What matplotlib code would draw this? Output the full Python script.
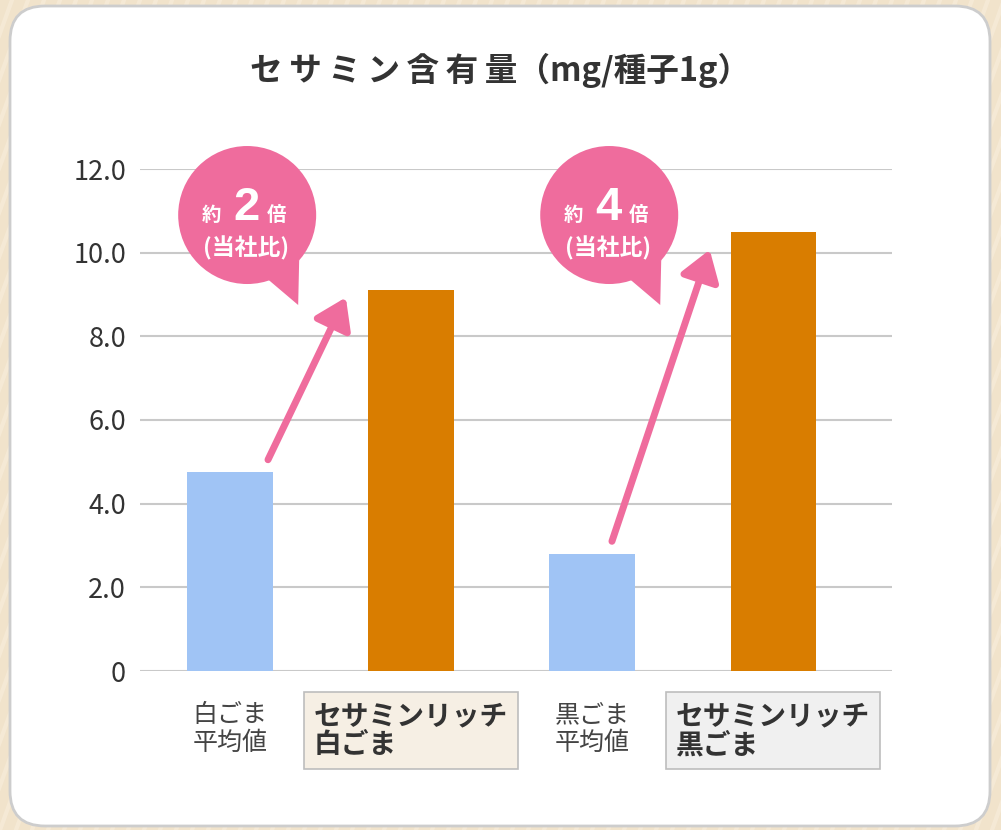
import matplotlib
matplotlib.use("Agg")
import matplotlib.pyplot as plt
from matplotlib.patches import FancyBboxPatch, Circle, Polygon
from matplotlib.transforms import ScaledTranslation

plt.rcParams['font.family'] = ['Noto Sans CJK JP', 'DejaVu Sans']

# datos
categorias = ["白ごま\n平均値", "セサミンリッチ\n白ごま", "黒ごま\n平均値", "セサミンリッチ\n黒ごま"]
valores = [4.75, 9.1, 2.8, 10.5]
colores = ["#a0c4f5", "#d97d00", "#a0c4f5", "#d97d00"]
destacado = [False, True, False, True]
caja_color = [None, "#f6efe4", None, "#f0f0f0"]
ticks_y = [0, 2, 4, 6, 8, 10, 12]
ticks_y_txt = ["0", "2.0", "4.0", "6.0", "8.0", "10.0", "12.0"]
# (multiplo, desde, hasta, inicio_dx, fin_dx, fin_dy)
burbujas = [("2", 0, 1, 0.21, -0.36, -0.17), ("4", 2, 3, 0.11, -0.35, -0.43)]

titulo_a = "セサミン含有量"
titulo_b = "（mg/種子1g）"
rosa = "#ef6c9d"

W, H = 1001, 830
fig = plt.figure(figsize=(W / 100, H / 100), dpi=100)
fig.patch.set_facecolor("#f1e3cb")

# fondo tipo madera (rayas diagonales suaves)
for i in range(-60, 80):
    x0 = i * 16
    fig.add_artist(plt.Line2D([x0 / W, (x0 + 300) / W], [0, 1], transform=fig.transFigure,
                              color="#f8eedd", lw=3, alpha=0.6, zorder=0))

# tarjeta blanca
card = FancyBboxPatch((10 / W, 4 / H), 980 / W, 820 / H,
                      boxstyle="round,pad=0,rounding_size=0.035",
                      transform=fig.transFigure, facecolor="white",
                      edgecolor="#cdcdcd", lw=2, zorder=1, mutation_aspect=W / H)
fig.add_artist(card)

fig.text(0.5, (H - 70) / H, "\u2009".join(titulo_a) + titulo_b, ha="center", va="center",
         fontsize=23.5, fontweight="bold", color="#333333", zorder=5)

ax = fig.add_axes([140 / W, (H - 671) / H, 752 / W, 502 / H])
ax.set_zorder(3)
ax.patch.set_alpha(0)

x = list(range(len(valores)))
ax.bar(x, valores, width=0.47, color=colores, zorder=2)

ax.set_xlim(-0.497, 3.657)
ax.set_ylim(0, 12)
ax.set_yticks(ticks_y)
ax.set_yticklabels(ticks_y_txt, fontsize=19.5, color="#333333")
ax.tick_params(axis="y", length=0, pad=10)
ax.set_xticks([])
for s in ax.spines.values():
    s.set_visible(False)
for t in ticks_y:
    ax.axhline(t, color="#c9c9c9", lw=1.5, zorder=1)

# etiquetas de categorias
for xi, lab, dest, cc in zip(x, categorias, destacado, caja_color):
    if dest:
        ax.text(xi, -0.74, lab, ha="center", va="top", multialignment="left",
                fontsize=20, fontweight="bold", color="#333333", linespacing=1.05,
                clip_on=False,
                bbox=dict(boxstyle="square,pad=0.35", facecolor=cc, edgecolor="#bdbdbd", lw=1.2))
    else:
        ax.text(xi, -0.74, lab, ha="center", va="top", multialignment="left",
                fontsize=18, color="#444444", linespacing=1.1, clip_on=False)

# flechas y burbujas
for mult, a, b, dx0, dx1, dy1 in burbujas:
    ax.annotate("", xy=(b + dx1, valores[b] + dy1), xytext=(a + dx0, valores[a] + 0.3),
                arrowprops=dict(arrowstyle="-|>,head_length=0.9,head_width=0.6",
                                color=rosa, lw=5, shrinkA=0, shrinkB=0, mutation_scale=20),
                zorder=4, annotation_clip=False)

    cx, cy = a + 0.095, 10.9
    tr = fig.dpi_scale_trans + ScaledTranslation(cx, cy, ax.transData)
    r = 0.69
    ax.add_patch(Circle((0, 0), r, transform=tr, facecolor=rosa, edgecolor="none",
                        zorder=5, clip_on=False))
    ax.add_patch(Polygon([(0.18, -0.62), (0.52, -0.45), (0.51, -0.90)], closed=True,
                         transform=tr, facecolor=rosa, edgecolor="none", zorder=5, clip_on=False))
    ax.text(-0.36, 0.0, "約", transform=tr, ha="center", va="center", fontsize=14,
            fontweight="bold", color="white", zorder=6)
    ax.text(-0.01, 0.07, mult, transform=tr, ha="center", va="center", fontsize=34,
            fontweight="bold", color="white", zorder=6, family="Liberation Sans")
    ax.text(0.29, 0.0, "倍", transform=tr, ha="center", va="center", fontsize=14,
            fontweight="bold", color="white", zorder=6)
    ax.text(-0.01, -0.33, "(当社比)", transform=tr, ha="center", va="center", fontsize=16.5,
            fontweight="bold", color="white", zorder=6)

fig.savefig("out.png", dpi=100, facecolor=fig.get_facecolor())
